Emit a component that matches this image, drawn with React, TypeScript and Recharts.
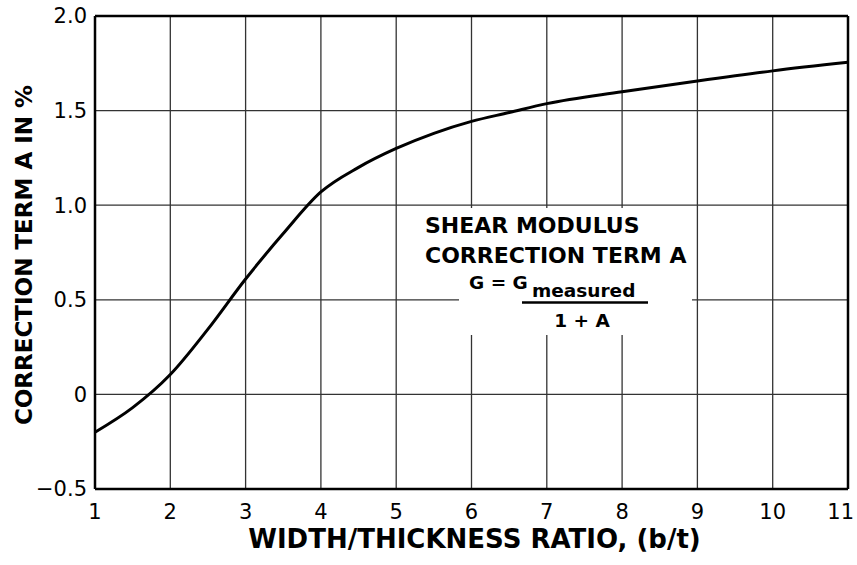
import { CartesianGrid, Label, Line, LineChart, ReferenceLine, XAxis, YAxis } from 'recharts';

// width/thickness ratio b/t and the correction term A (%)
const ratio = [1, 1.5, 2, 2.5, 3, 3.5, 4, 4.5, 5, 5.5, 6, 6.5, 7, 8, 9, 10, 11];
const correctionA = [-0.2, -0.07, 0.105, 0.345, 0.61, 0.85, 1.07, 1.2, 1.3, 1.38, 1.443, 1.49, 1.537, 1.6, 1.657, 1.71, 1.755];

const xTicks = [1, 2, 3, 4, 5, 6, 7, 8, 9, 10, 11];
const yTicks = [-0.5, 0, 0.5, 1, 1.5, 2];

const data = ratio.map((x, i) => ({ x, a: correctionA[i] }));

const FONT = '"DejaVu Sans", Verdana, sans-serif';

const fmtY = (v: number) => (v === 0 ? '0' : v < 0 ? '\u2212' + Math.abs(v).toFixed(1) : v.toFixed(1));

// last label is pulled in a little so it stays inside the frame
const XTick = ({ x, y, payload }: any) => {
  const last = payload.value === xTicks[xTicks.length - 1];
  return (
    <text
      x={last ? x + 6 : x}
      y={y}
      dy="0.71em"
      textAnchor={last ? 'end' : 'middle'}
      fontFamily={FONT}
      fontSize={21}
      fill="#000"
    >
      {payload.value}
    </text>
  );
};

const XTitle = ({ viewBox }: any) => (
  <text
    x={viewBox.x + viewBox.width / 2 + 3}
    y={viewBox.y + 59}
    textAnchor="middle"
    fontFamily={FONT}
    fontWeight="bold"
    fontSize={26}
    fill="#000"
  >
    WIDTH/THICKNESS RATIO, (b/t)
  </text>
);

const YTitle = () => {
  const cx = 23;
  const cy = 255;
  return (
    <text
      x={cx}
      y={cy + 8.5}
      transform={`rotate(-90, ${cx}, ${cy})`}
      textAnchor="middle"
      fontFamily={FONT}
      fontWeight="bold"
      fontSize={23}
      fill="#000"
    >
      CORRECTION TERM A IN %
    </text>
  );
};

export default function App() {
  return (
    <div style={{ position: 'absolute', left: 0, top: 0, width: 857, height: 565, background: '#fff' }}>
      <LineChart width={857} height={565} data={data} margin={{ top: 16, right: 9, left: 0, bottom: 0 }}>
        <CartesianGrid stroke="#333" strokeWidth={1.3} />
        <XAxis
          dataKey="x"
          type="number"
          domain={[1, 11]}
          ticks={xTicks}
          interval={0}
          height={76}
          tickLine={false}
          tickMargin={9}
          axisLine={{ stroke: '#000', strokeWidth: 2.5 }}
          tick={<XTick />}
        >
          <Label content={<XTitle />} />
        </XAxis>
        <YAxis
          type="number"
          domain={[-0.5, 2]}
          ticks={yTicks}
          interval={0}
          width={95}
          tickLine={false}
          tickFormatter={fmtY}
          axisLine={{ stroke: '#000', strokeWidth: 2.5 }}
          tick={{ fill: '#000', fontSize: 21, fontFamily: FONT }}
        >
          <Label content={<YTitle />} />
        </YAxis>
        <ReferenceLine y={2} stroke="#000" strokeWidth={2.5} />
        <ReferenceLine x={11} stroke="#000" strokeWidth={2.5} />
        <Line
          type="monotone"
          dataKey="a"
          stroke="#000"
          strokeWidth={3}
          dot={false}
          activeDot={false}
          isAnimationActive={false}
        />
      </LineChart>
      <svg
        width={857}
        height={565}
        style={{ position: 'absolute', left: 0, top: 0, pointerEvents: 'none' }}
        fontFamily={FONT}
        fontWeight="bold"
        fill="#000"
      >
        <rect x={459} y={208} width={233} height={127} fill="#fff" />
        <text x={425} y={233} fontSize={22}>SHEAR MODULUS</text>
        <text x={425} y={263} fontSize={22}>CORRECTION TERM A</text>
        <text x={469} y={289} fontSize={18.5}>G = G</text>
        <text x={532} y={297} fontSize={18.5}>measured</text>
        <line x1={522} x2={648} y1={302.5} y2={302.5} stroke="#000" strokeWidth={2.5} />
        <text x={582} y={327} fontSize={18.5} textAnchor="middle">1 + A</text>
      </svg>
    </div>
  );
}
